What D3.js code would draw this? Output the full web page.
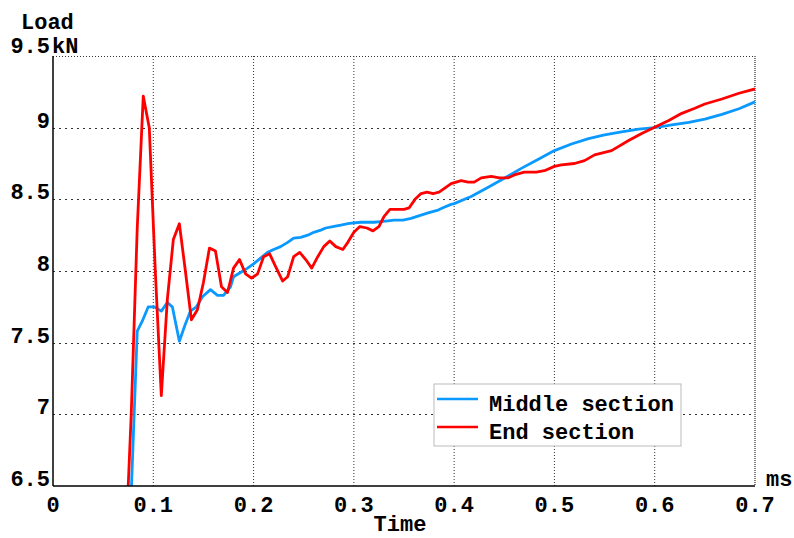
<!DOCTYPE html>
<html>
<head>
<meta charset="utf-8">
<script src="https://cdn.jsdelivr.net/npm/d3@7"></script>
<style>
  body { margin: 0; background: #fff; }
  text { font-family: "Liberation Mono", "Courier New", monospace; font-weight: bold; fill: #000; }
</style>
</head>
<body>
<svg width="794" height="538"></svg>
<script>
// chart values (time in ms, load in kN)
var timeMiddle = [0.072, 0.078, 0.084, 0.089, 0.095, 0.101, 0.108, 0.114, 0.119, 0.126, 0.132, 0.137,
  0.143, 0.149, 0.157, 0.164, 0.170, 0.177, 0.180, 0.187, 0.194, 0.200, 0.207, 0.214, 0.220, 0.227,
  0.234, 0.240, 0.247, 0.254, 0.260, 0.267, 0.272, 0.279, 0.287, 0.294, 0.300, 0.307, 0.314, 0.320,
  0.327, 0.334, 0.340, 0.349, 0.357, 0.367, 0.374, 0.384, 0.390, 0.397, 0.400, 0.417, 0.434, 0.450,
  0.467, 0.484, 0.500, 0.517, 0.534, 0.550, 0.567, 0.584, 0.600, 0.617, 0.634, 0.650, 0.667, 0.684, 0.700];
var loadMiddle = [5.6, 6.45, 7.58, 7.65, 7.75, 7.75, 7.72, 7.78, 7.75, 7.51, 7.63, 7.72,
  7.75, 7.82, 7.87, 7.83, 7.83, 7.89, 7.96, 7.99, 8.02, 8.05, 8.09, 8.13, 8.15, 8.17,
  8.20, 8.23, 8.235, 8.25, 8.27, 8.285, 8.30, 8.31, 8.32, 8.33, 8.335, 8.34, 8.34, 8.34,
  8.345, 8.35, 8.355, 8.355, 8.367, 8.39, 8.405, 8.425, 8.445, 8.465, 8.47, 8.52, 8.585, 8.647,
  8.716, 8.78, 8.84, 8.886, 8.923, 8.95, 8.97, 8.99, 9.00, 9.02, 9.037, 9.06, 9.093, 9.132, 9.18];

var timeEnd = [0.072, 0.078, 0.084, 0.090, 0.096, 0.102, 0.108, 0.114, 0.120, 0.126, 0.132, 0.138,
  0.144, 0.150, 0.156, 0.162, 0.168, 0.174, 0.180, 0.186, 0.192, 0.198, 0.204, 0.210, 0.216, 0.222,
  0.229, 0.234, 0.240, 0.246, 0.252, 0.258, 0.264, 0.270, 0.276, 0.282, 0.289, 0.294, 0.300, 0.306,
  0.313, 0.319, 0.325, 0.330, 0.336, 0.343, 0.350, 0.355, 0.361, 0.367, 0.373, 0.379, 0.385, 0.391,
  0.397, 0.407, 0.414, 0.420, 0.427, 0.437, 0.445, 0.454, 0.460, 0.470, 0.482, 0.490, 0.500, 0.507,
  0.520, 0.530, 0.540, 0.557, 0.574, 0.587, 0.602, 0.614, 0.627, 0.640, 0.650, 0.667, 0.684, 0.700];
var loadEnd = [6.0, 7.0, 8.3, 9.22, 9.0, 8.0, 7.13, 7.8, 8.22, 8.33, 8.0, 7.66,
  7.73, 7.92, 8.16, 8.14, 7.89, 7.85, 8.02, 8.08, 7.98, 7.95, 7.98, 8.10, 8.12, 8.03,
  7.93, 7.96, 8.10, 8.13, 8.08, 8.02, 8.10, 8.17, 8.21, 8.17, 8.15, 8.20, 8.27, 8.31,
  8.30, 8.28, 8.31, 8.38, 8.43, 8.43, 8.43, 8.44, 8.50, 8.54, 8.55, 8.54, 8.55, 8.58,
  8.61, 8.63, 8.62, 8.62, 8.65, 8.66, 8.65, 8.65, 8.67, 8.69, 8.69, 8.70, 8.73, 8.74,
  8.75, 8.77, 8.81, 8.84, 8.91, 8.96, 9.01, 9.05, 9.10, 9.135, 9.165, 9.20, 9.24, 9.27];

var xTicks = [0, 0.1, 0.2, 0.3, 0.4, 0.5, 0.6, 0.7];
var yTicks = [6.5, 7, 7.5, 8, 8.5, 9, 9.5];
var seriesNames = ["Middle section", "End section"];
var seriesColors = ["#0a99ff", "#ff0000"];

var svg = d3.select("svg");
var plotLeft = 53, plotRight = 755, plotTop = 56, plotBottom = 486;
var fontSize = "22px";

var x = d3.scaleLinear().domain([0, 0.7]).range([plotLeft, plotRight]);
var y = d3.scaleLinear().domain([6.5, 9.5]).range([plotBottom, plotTop]);

// grid (the 9.5 line doubles as the dotted top border)
svg.append("g").selectAll("line").data(xTicks.slice(1, -1)).enter().append("line")
  .attr("x1", function(d){ return x(d); }).attr("x2", function(d){ return x(d); })
  .attr("y1", plotTop).attr("y2", plotBottom)
  .attr("stroke", "#333").attr("stroke-width", 1).attr("stroke-dasharray", "1,2");

svg.append("g").selectAll("line").data(yTicks.slice(1)).enter().append("line")
  .attr("x1", plotLeft).attr("x2", plotRight)
  .attr("y1", function(d){ return Math.round(y(d)) + 0.5; })
  .attr("y2", function(d){ return Math.round(y(d)) + 0.5; })
  .attr("stroke", "#333").attr("stroke-width", 1)
  .attr("stroke-dasharray", function(d){ return d === 9.5 ? "1,2" : "2,4"; });

// right border
svg.append("line").attr("x1", plotRight).attr("x2", plotRight).attr("y1", plotTop).attr("y2", plotBottom)
  .attr("stroke", "#555").attr("stroke-width", 1.5).attr("stroke-dasharray", "1,1");

// lines
svg.append("clipPath").attr("id", "plot").append("rect")
  .attr("x", plotLeft).attr("y", plotTop)
  .attr("width", plotRight - plotLeft).attr("height", plotBottom - plotTop);

var line = d3.line()
  .x(function(d){ return x(d[0]); })
  .y(function(d){ return y(d[1]); });

var series = [d3.zip(timeMiddle, loadMiddle), d3.zip(timeEnd, loadEnd)];

svg.append("g").attr("clip-path", "url(#plot)")
  .selectAll("path").data(series).enter().append("path")
  .attr("d", line)
  .attr("fill", "none")
  .attr("stroke", function(d, i){ return seriesColors[i]; })
  .attr("stroke-width", 2.8)
  .attr("stroke-linejoin", "round");

// axes
svg.append("line").attr("x1", plotLeft).attr("x2", plotLeft).attr("y1", plotTop).attr("y2", plotBottom)
  .attr("stroke", "#000").attr("stroke-width", 1.5);
svg.append("line").attr("x1", plotLeft).attr("x2", plotRight).attr("y1", plotBottom).attr("y2", plotBottom)
  .attr("stroke", "#000").attr("stroke-width", 1.5);

svg.append("g").selectAll("text").data(yTicks).enter().append("text")
  .attr("x", 50)
  .attr("y", function(d){ return d === 9.5 ? y(d) - 3 : y(d); })
  .attr("text-anchor", "end")
  .style("font-size", fontSize)
  .text(function(d){ return d; });

svg.append("g").selectAll("text").data(xTicks).enter().append("text")
  .attr("x", function(d){ return x(d); })
  .attr("y", 512)
  .attr("text-anchor", "middle")
  .style("font-size", fontSize)
  .text(function(d){ return d; });

svg.append("text").attr("x", 21).attr("y", 29).style("font-size", fontSize).text("Load");
svg.append("text").attr("x", 52).attr("y", 53).style("font-size", fontSize).text("kN");
svg.append("text").attr("x", 766).attr("y", 486).style("font-size", fontSize).text("ms");
svg.append("text").attr("x", 400).attr("y", 531).attr("text-anchor", "middle")
  .style("font-size", fontSize).text("Time");

// legend
var legend = svg.append("g");
legend.append("rect").attr("x", 434).attr("y", 384).attr("width", 247).attr("height", 62)
  .attr("fill", "#fff").attr("stroke", "#bbb").attr("stroke-width", 1);
seriesNames.forEach(function(name, i){
  var ly = 399 + i * 28;
  legend.append("line").attr("x1", 437).attr("x2", 478).attr("y1", ly).attr("y2", ly)
    .attr("stroke", seriesColors[i]).attr("stroke-width", 2.6);
  legend.append("text").attr("x", 489).attr("y", ly + 12)
    .style("font-size", fontSize).text(name);
});
</script>
</body>
</html>
